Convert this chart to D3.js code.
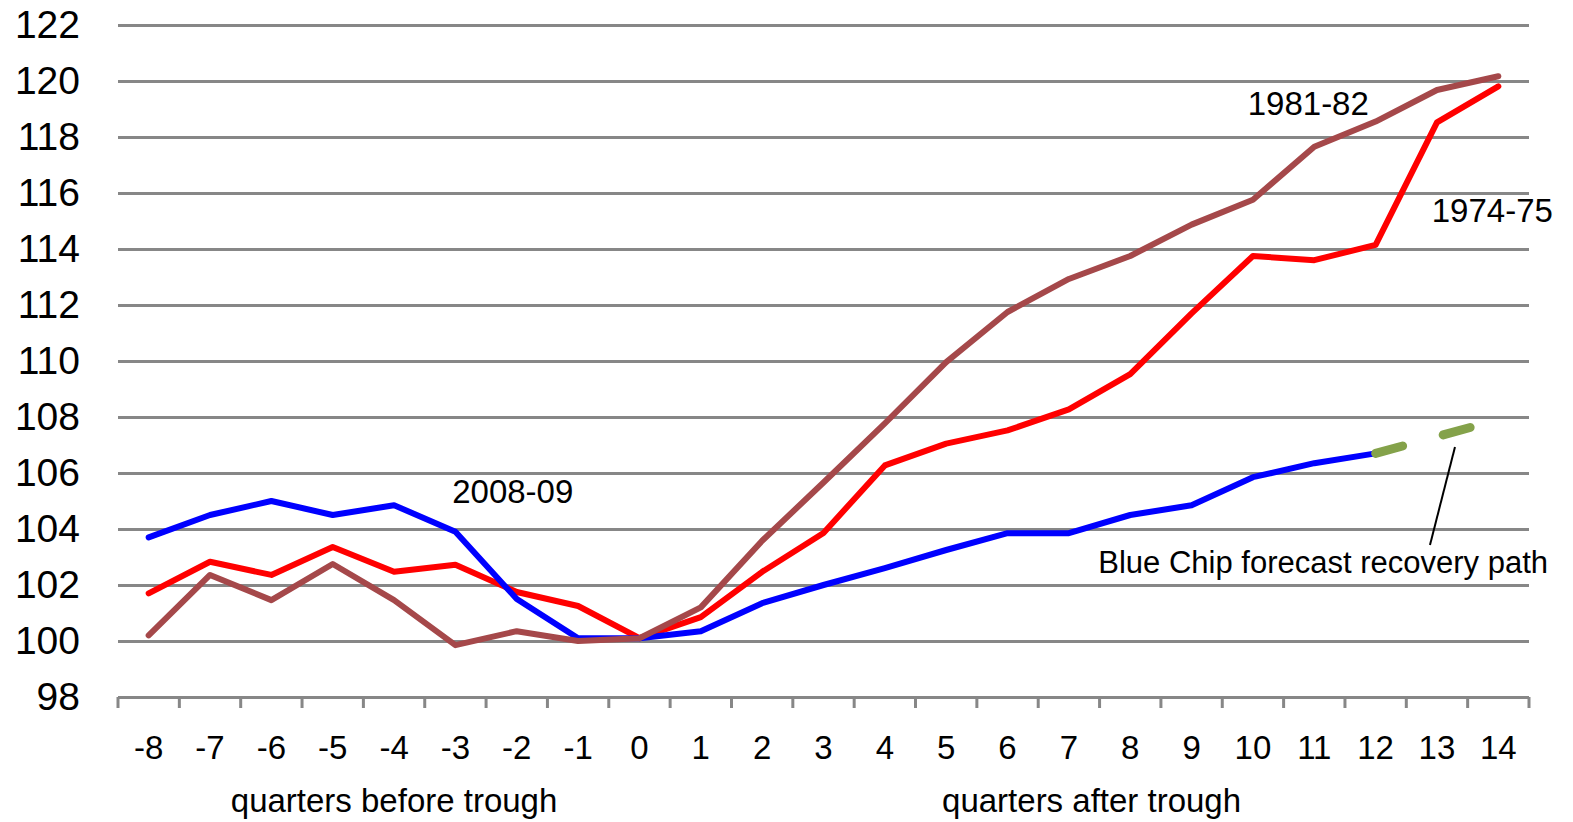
<html>
<head>
  <meta charset="utf-8" />
  <script src="https://cdnjs.cloudflare.com/ajax/libs/d3/7.8.5/d3.min.js"></script>
  <style>
    body { margin: 0; background: #fff; }
    text { font-family: "Liberation Sans", Arial, sans-serif; fill: #000; }
  </style>
</head>
<body>
  <svg width="1573" height="822"></svg>
  <script>

    var quarters = ["-8","-7","-6","-5","-4","-3","-2","-1","0","1","2","3","4",
                    "5","6","7","8","9","10","11","12","13","14"];
    var yTicks = [98,100,102,104,106,108,110,112,114,116,118,120,122];

    // 2008-09 (actual through quarter 12)
    var s2008 = [103.7,104.5,105.0,104.5,104.85,103.9,101.5,100.1,100.1,100.35,101.35,
                 102.0,102.6,103.25,103.85,103.85,104.5,104.85,105.85,106.35,106.7,null,null];
    // Blue Chip forecast
    var forecast = [null,null,null,null,null,null,null,null,null,null,null,null,
                    null,null,null,null,null,null,null,null,106.7,107.3,107.9];
    var s1974 = [101.7,102.83,102.36,103.36,102.47,102.72,101.75,101.25,100.1,100.85,102.47,
                 103.86,106.27,107.05,107.52,108.27,109.53,111.7,113.75,113.6,114.15,118.52,119.81];
    var s1981 = [100.2,102.36,101.46,102.75,101.46,99.85,100.35,100.0,100.1,101.2,103.58,
                 105.66,107.77,109.96,111.75,112.93,113.75,114.87,115.76,117.65,118.55,119.68,120.17];

    var plotL = 118, plotR = 1529, plotT = 25, plotB = 697;

    var svg = d3.select("svg");
    var x = d3.scaleBand().domain(quarters).range([plotL, plotR]).padding(0);
    var y = d3.scaleLinear().domain([98, 122]).range([plotB, plotT]);
    var xc = q => x(q) + x.bandwidth() / 2;

    // gridlines + y labels
    var yAxis = d3.axisLeft(y).tickValues(yTicks).tickSize(-(plotR - plotL)).tickPadding(38);
    var gy = svg.append("g").attr("transform", "translate(" + plotL + ",0)").call(yAxis);
    gy.select(".domain").remove();
    gy.selectAll(".tick line").attr("stroke", "#878787").attr("stroke-width", 3);
    gy.selectAll(".tick text").attr("font-size", 39).attr("font-family", "Liberation Sans, Arial, sans-serif");

    // category boundary ticks
    var edges = quarters.map(q => x(q)).concat([plotR]);
    svg.append("g").selectAll("line").data(edges).enter().append("line")
      .attr("x1", d => d).attr("x2", d => d)
      .attr("y1", plotB).attr("y2", plotB + 11)
      .attr("stroke", "#878787").attr("stroke-width", 3);

    // x labels
    svg.append("g").selectAll("text").data(quarters).enter().append("text")
      .attr("x", d => xc(d)).attr("y", 759)
      .attr("text-anchor", "middle").attr("font-size", 33)
      .text(d => d);

    svg.append("text").attr("x", xc("-4")).attr("y", 812)
      .attr("text-anchor", "middle").attr("font-size", 33).text("quarters before trough");
    svg.append("text").attr("x", (xc("1") + xc("14")) / 2 - 8).attr("y", 812)
      .attr("text-anchor", "middle").attr("font-size", 33).text("quarters after trough");

    // series
    var line = d3.line()
      .defined(d => d[1] != null)
      .x(d => xc(d[0])).y(d => y(d[1]));
    function draw(vals, color, width, dash) {
      var p = svg.append("path")
        .datum(quarters.map((q, i) => [q, vals[i]]))
        .attr("d", line)
        .attr("fill", "none").attr("stroke", color).attr("stroke-width", width)
        .attr("stroke-linejoin", "round").attr("stroke-linecap", "round");
      if (dash) p.attr("stroke-dasharray", dash);
    }
    draw(s1974, "#FF0000", 6);
    draw(s2008, "#0000FF", 6);
    draw(s1981, "#A5484A", 6);
    draw(forecast, "#84A24A", 9, "28,42");

    // annotations
    svg.append("text").attr("x", xc("-2") - 4).attr("y", 503)
      .attr("text-anchor", "middle").attr("font-size", 33).text("2008-09");
    svg.append("text").attr("x", xc("11") - 6).attr("y", 115)
      .attr("text-anchor", "middle").attr("font-size", 33).text("1981-82");
    svg.append("text").attr("x", xc("14") - 6).attr("y", 222)
      .attr("text-anchor", "middle").attr("font-size", 33).text("1974-75");
    svg.append("text").attr("x", 1548).attr("y", 573)
      .attr("text-anchor", "end").attr("font-size", 31).text("Blue Chip forecast recovery path");
    svg.append("line")
      .attr("x1", xc("13") + 18).attr("y1", 447)
      .attr("x2", xc("13") - 7).attr("y2", 545)
      .attr("stroke", "#000").attr("stroke-width", 2);

  </script>
</body>
</html>
